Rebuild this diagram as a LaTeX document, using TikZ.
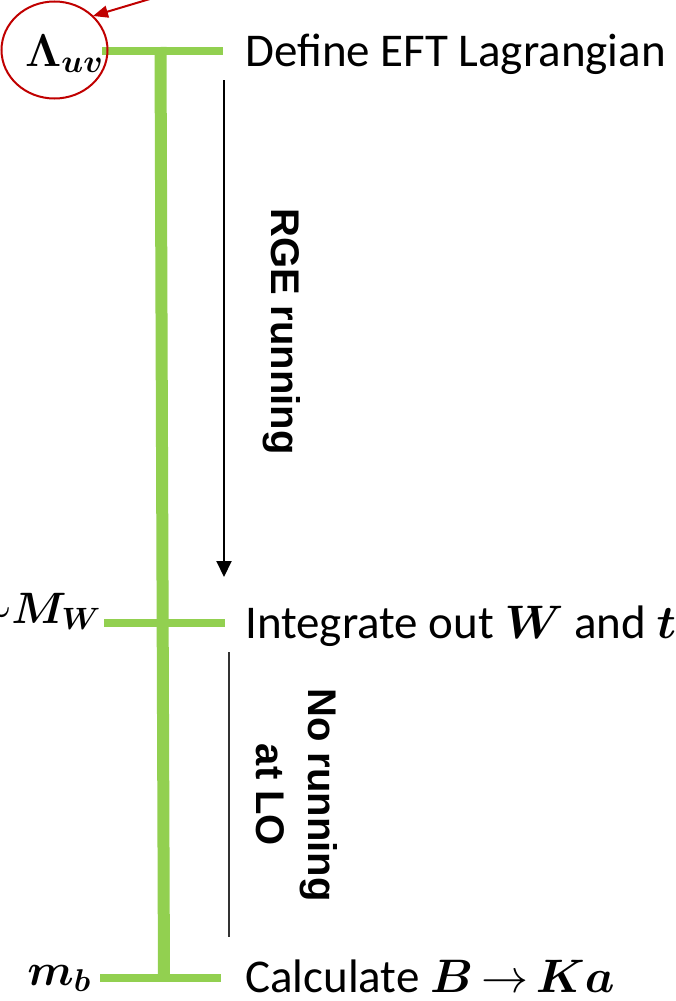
\RequirePackage{fix-cm}
\documentclass[tikz,border=0pt]{standalone}
\usepackage{fontspec}
\usepackage{amsmath,bm}
\setmainfont{Carlito}
\newfontfamily\labelfont{Liberation Sans}
\usetikzlibrary{arrows.meta,shapes.geometric}
\definecolor{scalegreen}{HTML}{92D050}
\definecolor{markred}{HTML}{C00000}
\begin{document}
\begin{tikzpicture}[x=1pt,y=-1pt,
  tick/.style={draw=scalegreen,line width=8pt},
  spine/.style={draw=scalegreen,line width=12pt},
  steptext/.style={anchor=base west,inner sep=0pt,font=\fontsize{47}{56}\selectfont},
  scalelabel/.style={anchor=base east,inner sep=0pt,font=\fontsize{44}{52}\selectfont},
  vlabel/.style={rotate=-90,inner sep=0pt,font=\labelfont\bfseries\fontsize{40}{52}\selectfont,align=center}]
\useasboundingbox (0,0) rectangle (676,1001);
\clip (0,0) rectangle (676,1001);

% energy-scale axis
\coordinate (spinetop) at (160.5,47);
\coordinate (spinebot) at (164,981.5);
\draw[spine] (spinetop) -- (spinebot);
\coordinate (uvL) at (102,51);   \coordinate (uvR) at (223,51);
\coordinate (mwL) at (104,623);  \coordinate (mwR) at (225,623);
\coordinate (mbL) at (100,977.5);\coordinate (mbR) at (221,977.5);
\draw[tick] (uvL) -- (uvR);
\draw[tick] (mwL) -- (mwR);
\draw[tick] (mbL) -- (mbR);

% scale labels
\node[anchor=base west,inner sep=0pt,font=\fontsize{46}{54}\selectfont] (uv) at (25,66) {$\bm{\Lambda}_{\bm{uv}}$};
\node[scalelabel] (mw) at (101,623) {$\sim\mkern-5mu\bm{M}_{\bm{W}}$};
\node[scalelabel,font=\fontsize{45}{54}\selectfont] (mb) at (91,985) {$\bm{m}_{\bm{b}}$};

% highlight ring and pointer
\node[draw=markred,line width=2pt,ellipse,minimum width=106pt,minimum height=97pt,inner sep=0pt] (ring) at (54.5,50) {};
\coordinate (redtail) at (200,-16);
\coordinate (redtip) at (93,16);
\draw[markred,line width=2pt,-{Triangle[width=12pt,length=15pt]}] (redtail) -- (redtip);

% step descriptions
\node[steptext] (define) at (245,66) {Define EFT Lagrangian};
\node[steptext] (integrate) at (245,638) {Integrate out $\bm{W}$ and $\bm{t}$};
\node[steptext] (calc) at (245,992) {Calculate $\bm{B}\mkern-2mu\to\mkern-2mu\bm{K}\bm{a}$};

% running between scales
\coordinate (rgetop) at (224,80);
\coordinate (rgebot) at (224,577);
\draw[line width=2pt,-{Triangle[width=15pt,length=16pt]}] (rgetop) -- (rgebot);
\node[vlabel,anchor=base west] (rge) at (271,208) {RGE running};

\coordinate (lotop) at (229,652);
\coordinate (lobot) at (229,937);
\draw[line width=1.2pt,black!80] (lotop) -- (lobot);
\node[vlabel] (lo) at (297,795) {No running\\at LO};
\end{tikzpicture}
\end{document}
